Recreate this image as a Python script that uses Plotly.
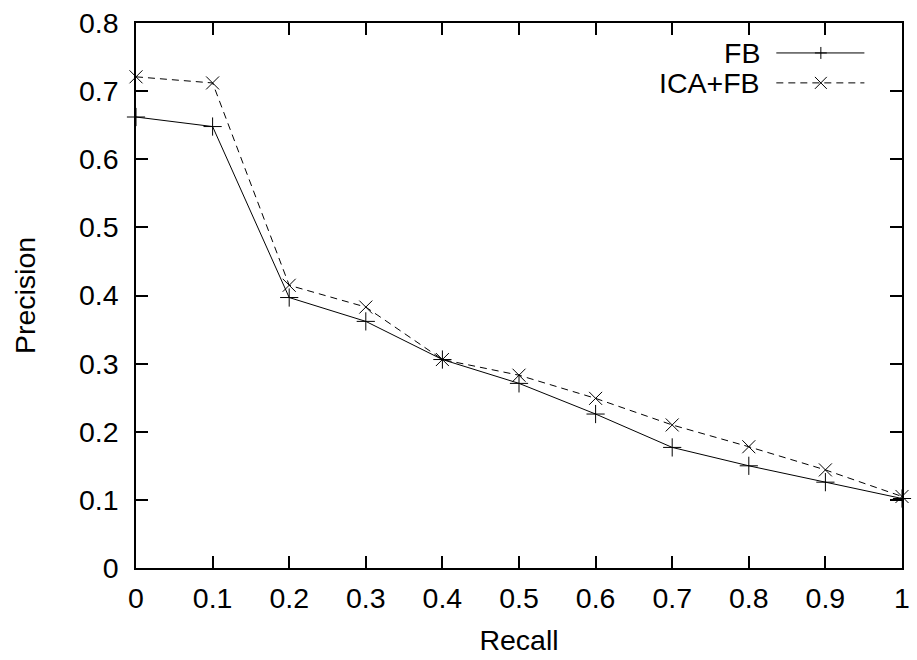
import plotly.graph_objects as go

recall = [0.0, 0.1, 0.2, 0.3, 0.4, 0.5, 0.6, 0.7, 0.8, 0.9, 1.0]
fb_precision = [0.662, 0.648, 0.397, 0.362, 0.306, 0.271, 0.226, 0.177, 0.150, 0.126, 0.102]
ica_fb_precision = [0.721, 0.712, 0.415, 0.383, 0.306, 0.283, 0.249, 0.210, 0.178, 0.144, 0.105]

x_ticks = [0, 0.1, 0.2, 0.3, 0.4, 0.5, 0.6, 0.7, 0.8, 0.9, 1]
x_tick_labels = ["0", "0.1", "0.2", "0.3", "0.4", "0.5", "0.6", "0.7", "0.8", "0.9", "1"]
y_ticks = [0, 0.1, 0.2, 0.3, 0.4, 0.5, 0.6, 0.7, 0.8]
y_tick_labels = ["0", "0.1", "0.2", "0.3", "0.4", "0.5", "0.6", "0.7", "0.8"]

series_names = ["FB", "ICA+FB"]

FONT = "Liberation Sans, Arial, sans-serif"
FS = 28.5
W, H = 917, 660
ML, MR, MT, MB = 136, 7, 22, 92

fig = go.Figure()
fig.add_trace(go.Scatter(
    x=recall, y=fb_precision, name=series_names[0], mode="lines+markers",
    line=dict(color="black", width=1),
    marker=dict(symbol="cross-thin-open", size=13, color="black",
                line=dict(color="black", width=1)),
    cliponaxis=False, showlegend=False,
))
fig.add_trace(go.Scatter(
    x=recall, y=ica_fb_precision, name=series_names[1], mode="lines+markers",
    line=dict(color="black", width=1, dash="7px,5px"),
    marker=dict(symbol="x-thin-open", size=13, color="black",
                line=dict(color="black", width=1)),
    cliponaxis=False, showlegend=False,
))

axis_common = dict(
    showgrid=False, zeroline=False, showline=True, linecolor="black",
    linewidth=1.5, mirror="allticks", ticks="inside", ticklen=12,
    tickwidth=1.5, tickcolor="black",
    tickfont=dict(family=FONT, size=FS, color="black"),
)
fig.update_xaxes(
    range=[0, 1], tickvals=x_ticks, ticktext=x_tick_labels,
    ticklabelstandoff=4,
    title=dict(text="Recall", font=dict(family=FONT, size=FS, color="black"), standoff=17),
    **axis_common,
)
fig.update_yaxes(
    range=[0, 0.8], tickvals=y_ticks, ticktext=y_tick_labels,
    ticklabelstandoff=10,
    title=dict(text="Precision", font=dict(family=FONT, size=FS, color="black"), standoff=35),
    **axis_common,
)

# Gnuplot-style key: label on the left, line sample with marker on the right
def px_x(p):
    return (p - ML) / (W - ML - MR)

def px_y(p):
    return 1 - (p - MT) / (H - MT - MB)

key_rows = [(52, "solid", "plus"), (82, "dash", "x")]
for (ypix, dash, sym), name in zip(key_rows, series_names):
    fig.add_annotation(
        x=px_x(769), y=px_y(ypix), xref="paper", yref="paper",
        text=name, showarrow=False, xanchor="right", yanchor="middle",
        font=dict(family=FONT, size=FS, color="black"),
    )
    fig.add_shape(
        type="line", xref="paper", yref="paper",
        x0=px_x(783), x1=px_x(872), y0=px_y(ypix), y1=px_y(ypix),
        line=dict(color="black", width=1, dash="7px,5px" if dash == "dash" else "solid"),
    )
    cx = px_x(828)
    if sym == "plus":
        fig.add_shape(type="line", xref="paper", yref="paper",
                      x0=px_x(822), x1=px_x(834), y0=px_y(ypix), y1=px_y(ypix),
                      line=dict(color="black", width=1))
        fig.add_shape(type="line", xref="paper", yref="paper",
                      x0=cx, x1=cx, y0=px_y(ypix - 6), y1=px_y(ypix + 6),
                      line=dict(color="black", width=1))
    else:
        fig.add_shape(type="line", xref="paper", yref="paper",
                      x0=px_x(822), x1=px_x(834), y0=px_y(ypix - 6), y1=px_y(ypix + 6),
                      line=dict(color="black", width=1))
        fig.add_shape(type="line", xref="paper", yref="paper",
                      x0=px_x(822), x1=px_x(834), y0=px_y(ypix + 6), y1=px_y(ypix - 6),
                      line=dict(color="black", width=1))

fig.update_layout(
    width=W, height=H, autosize=False,
    margin=dict(l=ML, r=MR, t=MT, b=MB),
    paper_bgcolor="white", plot_bgcolor="white",
    font=dict(family=FONT, color="black"),
)

fig.write_html("out.html")
